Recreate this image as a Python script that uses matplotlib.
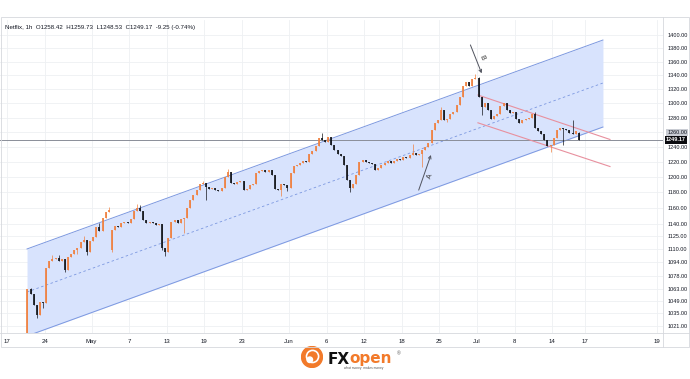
import numpy as np
import matplotlib
matplotlib.use("Agg")
import matplotlib.pyplot as plt
from matplotlib.patches import Rectangle, Circle
from matplotlib.lines import Line2D
from matplotlib.ticker import NullLocator, FixedLocator, FixedFormatter
import matplotlib.transforms as mtransforms

plt.rcParams["font.family"] = ["Liberation Sans", "DejaVu Sans"]

# ---------------- data (Netflix, 1h, ~3 candles per trading day) ----------------
opens = [975, 972, 978, 975, 985, 990, 1000, 1062, 1057, 1044,
         1033, 1048, 1046, 1087, 1095, 1098, 1099, 1095, 1098, 1085,
         1100, 1104, 1109, 1111, 1118, 1121, 1106, 1119, 1124, 1136,
         1132, 1148, 1155, 1109, 1133, 1138, 1137, 1141, 1143, 1142,
         1147, 1156, 1160, 1156, 1145, 1141, 1143, 1141, 1139, 1140,
         1111, 1106, 1123, 1143, 1145, 1141, 1147, 1148, 1160, 1171,
         1177, 1183, 1191, 1192, 1187, 1185, 1186, 1183, 1182, 1186,
         1200, 1206, 1192, 1191, 1194, 1195, 1183, 1185, 1189, 1191,
         1205, 1208, 1209, 1207, 1209, 1203, 1185, 1183, 1191, 1190,
         1186, 1205, 1214, 1216, 1218, 1221, 1220, 1230, 1234, 1241,
         1252, 1249, 1247, 1253, 1242, 1236, 1230, 1228, 1216, 1196,
         1186, 1191, 1203, 1220, 1222, 1220, 1218, 1217, 1209, 1212,
         1216, 1218, 1221, 1218, 1221, 1223, 1222, 1226, 1225, 1229,
         1232, 1229, 1230, 1236, 1240, 1245, 1263, 1273, 1277, 1290,
         1277, 1278, 1285, 1288, 1297, 1309, 1325, 1330, 1325, 1334,
         1336, 1309, 1295, 1300, 1290, 1278, 1282, 1285, 1296, 1300,
         1290, 1287, 1288, 1278, 1273, 1277, 1278, 1280, 1285, 1265,
         1261, 1257, 1249, 1241, 1242, 1252, 1263, 1265, 1264, 1263,
         1259, 1257, 1258.42]
closes = [972, 978, 975, 985, 990, 1000, 1062, 1057, 1044, 1033,
          1048, 1046, 1087, 1095, 1098, 1099, 1095, 1098, 1085, 1100,
          1104, 1109, 1111, 1118, 1121, 1106, 1119, 1124, 1136, 1132,
          1148, 1155, 1158, 1133, 1138, 1137, 1141, 1143, 1142, 1147,
          1156, 1160, 1156, 1145, 1141, 1143, 1141, 1139, 1140, 1111,
          1106, 1123, 1143, 1145, 1141, 1147, 1148, 1160, 1171, 1177,
          1183, 1191, 1192, 1187, 1185, 1186, 1183, 1182, 1186, 1200,
          1206, 1192, 1191, 1194, 1195, 1183, 1185, 1189, 1191, 1205,
          1208, 1209, 1207, 1209, 1203, 1185, 1183, 1191, 1190, 1186,
          1205, 1214, 1216, 1218, 1221, 1220, 1230, 1234, 1241, 1252,
          1249, 1247, 1253, 1242, 1236, 1230, 1228, 1216, 1196, 1186,
          1191, 1203, 1220, 1222, 1220, 1218, 1217, 1209, 1212, 1216,
          1218, 1221, 1218, 1221, 1223, 1222, 1226, 1225, 1229, 1232,
          1229, 1230, 1236, 1240, 1245, 1263, 1273, 1277, 1290, 1277,
          1278, 1285, 1288, 1297, 1309, 1325, 1330, 1325, 1334, 1336,
          1309, 1295, 1300, 1290, 1278, 1282, 1285, 1296, 1300, 1290,
          1287, 1288, 1278, 1273, 1277, 1278, 1280, 1285, 1265, 1261,
          1257, 1249, 1241, 1242, 1252, 1263, 1265, 1264, 1263, 1259,
          1257, 1261, 1249.17]
wick_high = {7: 1064, 14: 1103, 16: 1102, 24: 1126, 29: 1141, 32: 1161, 41: 1165,
             42: 1164, 62: 1195, 70: 1210, 100: 1259, 129: 1244, 138: 1295,
             149: 1342, 150: 1337, 168: 1288, 180: 1277, 182: 1259.73}
wick_low = {9: 1030, 11: 1041, 18: 1082, 22: 1104, 25: 1103, 33: 1106, 49: 1108,
            50: 1101, 56: 1129, 63: 1171, 87: 1176, 89: 1182, 109: 1180, 132: 1213,
            140: 1274, 151: 1284, 173: 1233, 177: 1242, 182: 1248.53}
bars_per_day = 3

# x tick labels (trading-day index) and price ticks
xtick_days = [0, 4, 9, 13, 17, 21, 25, 30, 34, 38, 42, 46, 50, 54, 58, 61.5, 69.1]
xtick_labels = ["17", "24", "May", "7", "13", "19", "23", "Jun", "6", "12", "18",
                "25", "Jul", "8", "14", "17", "19"]
ytick_prices = [1400, 1380, 1360, 1340, 1320, 1300, 1280, 1260, 1240, 1220, 1200,
                1180, 1160, 1140, 1125, 1110, 1094, 1078, 1063, 1049, 1035, 1021]
last_price = 1249.17

# drawings
channel_days = [2.13, 63.4]
channel_upper = [1109.8, 1392.4]
channel_mid = [1059.1, 1328.9]
channel_lower = [1009.7, 1266.9]
down_days = [50.1, 64.15]
down_upper = [1311.7, 1249.9]
down_lower = [1272.7, 1213.7]
arrow_a = [(43.8, 1183), (45.1, 1229)]
arrow_b = [(49.3, 1385), (50.5, 1343)]

title = "Netflix, 1h  O1258.42  H1259.73  L1248.53  C1249.17  -9.25 (-0.74%)"

# ---------------- figure ----------------
W, H = 690, 379
fig = plt.figure(figsize=(6.9, 3.79), dpi=100)
fig.patch.set_facecolor("white")

def fx(px):
    return px / W

def fy(py):
    return 1 - py / H

ax = fig.add_axes([fx(0), fy(333), fx(663), (333 - 20) / H])
ax.set_yscale("log")
ax.set_xlim(-0.745, 69.79)
ax.set_ylim(1013.0, 1423.0)
for s in ax.spines.values():
    s.set_visible(False)

# grid
for d in xtick_days:
    ax.axvline(d, color="#eef0f3", lw=0.6, zorder=0)
for p in ytick_prices:
    ax.axhline(p, color="#eef0f3", lw=0.6, zorder=0)

# blue parallel channel
cx = np.array(channel_days)
ax.fill_between(cx, channel_lower, channel_upper, color="#d8e3fd", zorder=1, lw=0)
ax.plot(cx, channel_upper, color="#7c98e0", lw=0.7, zorder=2)
ax.plot(cx, channel_lower, color="#7c98e0", lw=0.7, zorder=2)
ax.plot(cx, channel_mid, color="#7c98e0", lw=0.6, ls=(0, (3, 3)), zorder=2)

# last price line
ax.axhline(last_price, color="#8a8e98", lw=0.7, zorder=2)

# candles
o = np.array(opens, dtype=float)
c = np.array(closes, dtype=float)
n = len(c)
t = np.arange(n) / bars_per_day + 0.5 / bars_per_day
hi = np.maximum(o, c)
lo = np.minimum(o, c)
whi = hi.copy()
wlo = lo.copy()
for k, v in wick_high.items():
    whi[k] = max(whi[k], v)
for k, v in wick_low.items():
    wlo[k] = min(wlo[k], v)
up_col, dn_col = "#ef8140", "#15171c"
cols = [up_col if cc >= oo else dn_col for oo, cc in zip(o, c)]
ax.vlines(t, wlo, whi, colors=cols, lw=0.5, zorder=4)
ax.vlines(t, lo, np.maximum(hi, lo * 1.0008), colors=cols, lw=1.25, zorder=4)

# descending (pink) channel
ax.plot(down_days, down_upper, color="#e8909e", lw=0.8, zorder=3)
ax.plot(down_days, down_lower, color="#e8909e", lw=0.8, zorder=3)

# arrows A and B
for (tail, head), lab, rot, lpos in [
        (arrow_a, "A", 71, (45.0, 1201)),
        (arrow_b, "B", -67, (50.55, 1366))]:
    ax.annotate("", xy=head, xytext=tail,
                arrowprops=dict(arrowstyle="->", color="#50535e", lw=0.7,
                                shrinkA=0, shrinkB=0, mutation_scale=5), zorder=5)
    ax.text(lpos[0], lpos[1], lab, fontsize=5, rotation=rot, color="#333333",
            ha="center", va="center", zorder=5)

# axes ticks
ax.yaxis.tick_right()
ax.yaxis.set_minor_locator(NullLocator())
ax.yaxis.set_major_locator(FixedLocator(ytick_prices))
ax.yaxis.set_major_formatter(FixedFormatter([f"{p:.2f}" for p in ytick_prices]))
ax.tick_params(axis="y", length=0, pad=3, labelsize=4.0, labelcolor="#131722")
ax.set_xticks(xtick_days)
ax.set_xticklabels(xtick_labels)
ax.xaxis.set_minor_locator(NullLocator())
ax.tick_params(axis="x", length=0, pad=4, labelsize=4.3, labelcolor="#131722")
for lbl, p in zip(ax.get_yticklabels(), ytick_prices):
    if p == 1260:
        lbl.set_bbox(dict(boxstyle="square,pad=0.2", fc="#c9ccd3", ec="none"))

# last price badge
trans = mtransforms.blended_transform_factory(ax.transAxes, ax.transData)
ax.text(1.0 + 3 / 663, last_price, f"{last_price:.2f}", transform=trans,
        fontsize=4.0, color="white", ha="left", va="center", fontweight="bold",
        bbox=dict(boxstyle="square,pad=0.25", fc="#0b0b0f", ec="none"),
        clip_on=False, zorder=10)

# title
ax.text(5 / 663, 1 - 8 / 313, title, transform=ax.transAxes, fontsize=4.4,
        color="#131722", ha="left", va="center", zorder=10)

# frame lines
fig.add_artist(Line2D([fx(663), fx(663)], [fy(17), fy(347)], color="#d6d8dd", lw=0.6))
fig.add_artist(Line2D([fx(0), fx(690)], [fy(333), fy(333)], color="#d6d8dd", lw=0.6))
fig.add_artist(Rectangle((fx(1), fy(347)), fx(688), (347 - 17) / H, fill=False,
                         ec="#d6d8dd", lw=0.6))

# FXopen logo
lax = fig.add_axes([fx(301), fy(368), fx(22), 22 / H])
lax.set_xlim(-1, 1)
lax.set_ylim(-1, 1)
lax.set_aspect("equal")
lax.axis("off")
lax.add_patch(Circle((0, 0), 0.95, color="#f27a2a"))
lax.add_patch(Circle((0.05, 0.05), 0.55, fill=False, ec="white", lw=1.2))
lax.add_patch(Circle((-0.2, -0.25), 0.25, color="white"))
fig.text(fx(328), fy(359), "FX", fontsize=11, fontweight="bold", color="#111111",
         ha="left", va="center", family=["DejaVu Sans"])
fig.text(fx(349), fy(359), "open", fontsize=11, fontweight="bold", color="#f27a2a",
         ha="left", va="center", family=["DejaVu Sans"])
fig.text(fx(397), fy(354), "®", fontsize=3.5, color="#555555", ha="left", va="center")
fig.text(fx(364), fy(368.5), "what money  makes money", fontsize=2.3, color="#555555",
         ha="center", va="center")

fig.savefig("out.png", dpi=100, facecolor="white")
